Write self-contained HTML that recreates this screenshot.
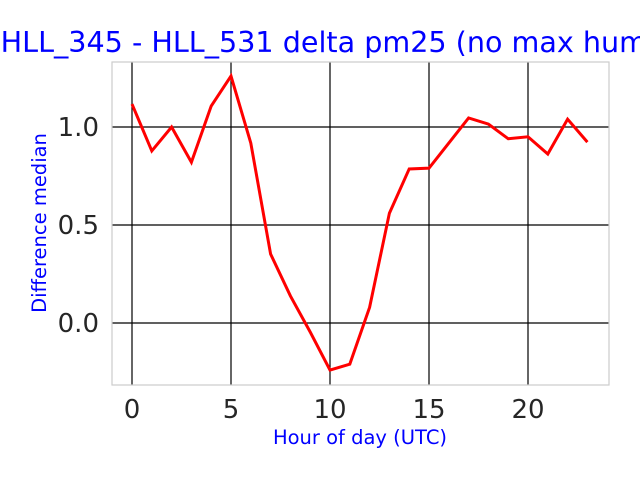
<!DOCTYPE html>
<html><head><meta charset="utf-8"><style>
body{margin:0;background:#fff;width:640px;height:480px;overflow:hidden}
svg{display:block;font-family:"DejaVu Sans","Liberation Sans",sans-serif}
</style></head><body>
<svg id="chart" width="640" height="480">
<text x="360.5" y="52" text-anchor="middle" font-size="28.6" fill="#0000ff">HLL_345 - HLL_531 delta pm25 (no max humidity)</text>
<g id="grid"></g>
<rect x="112" y="62" width="497" height="323" fill="none" stroke="#cccccc" stroke-width="1.2"/>
<g id="ticks"></g>
<path id="line" fill="none" stroke="#ff0000" stroke-width="3"/>
<text x="360" y="444" text-anchor="middle" font-size="19.5" fill="#0000ff">Hour of day (UTC)</text>
<text transform="translate(46,223) rotate(-90)" text-anchor="middle" font-size="19.5" fill="#0000ff">Difference median</text>
</svg>
<script>
const hours=[0,1,2,3,4,5,6,7,8,9,10,11,12,13,14,15,16,17,18,19,20,21,22,23];
const values=[1.117,0.878,1.0,0.82,1.107,1.26,0.918,0.352,0.138,-0.046,-0.24,-0.21,0.08,0.56,0.786,0.79,0.918,1.046,1.015,0.94,0.95,0.862,1.04,0.923];
const xTicks=[0,5,10,15,20];
const yTicks=[0.0,0.5,1.0];
const yLabels=["0.0","0.5","1.0"];
const NS="http://www.w3.org/2000/svg";
function xs(v){return 132+v*19.8;}
function ys(v){return 323-v*196;}
const grid=document.getElementById('grid'),ticks=document.getElementById('ticks');
xTicks.forEach(t=>{
 const l=document.createElementNS(NS,'line');
 l.setAttribute('x1',xs(t));l.setAttribute('x2',xs(t));l.setAttribute('y1',62);l.setAttribute('y2',385);
 l.setAttribute('stroke','#000');l.setAttribute('stroke-width','1.2');
 
 
 grid.appendChild(l);
 const tx=document.createElementNS(NS,'text');
 tx.setAttribute('x',xs(t));tx.setAttribute('y',418);tx.setAttribute('text-anchor','middle');
 tx.setAttribute('font-size','26');tx.setAttribute('fill','#262626');tx.textContent=t;
 
 
 ticks.appendChild(tx);
});
yTicks.forEach((t,i)=>{
 const l=document.createElementNS(NS,'line');
 l.setAttribute('x1',112);l.setAttribute('x2',609);l.setAttribute('y1',ys(t));l.setAttribute('y2',ys(t));
 l.setAttribute('stroke','#000');l.setAttribute('stroke-width','1.2');
 
 
 grid.appendChild(l);
 const tx=document.createElementNS(NS,'text');
 tx.setAttribute('x',99);tx.setAttribute('y',ys(t)+9);tx.setAttribute('text-anchor','end');
 tx.setAttribute('font-size','26');tx.setAttribute('fill','#262626');tx.textContent=yLabels[i];
 
 
 ticks.appendChild(tx);
});
document.getElementById('line').setAttribute('d',hours.map((h,i)=>(i?'L':'M')+xs(h)+','+ys(values[i])).join(' '));
</script>
</body></html>
